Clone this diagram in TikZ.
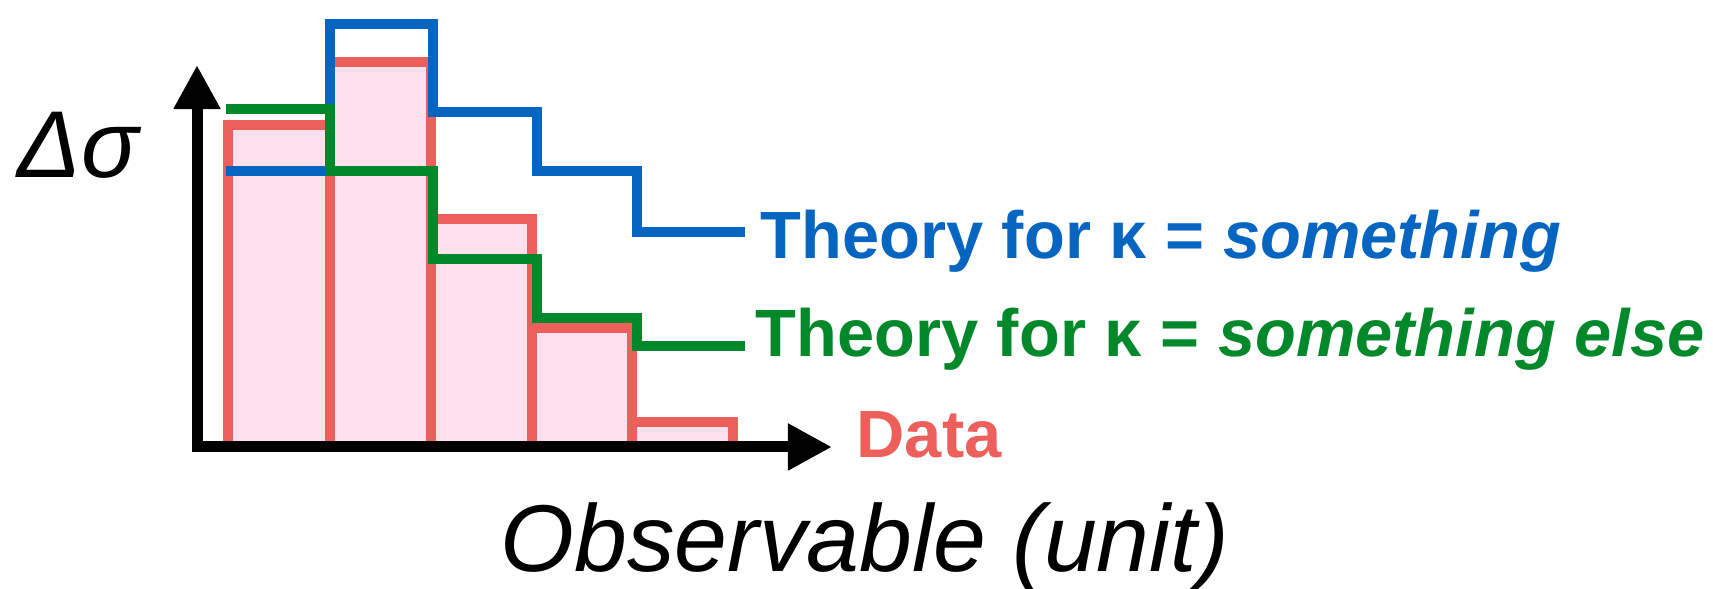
\documentclass[tikz,border=0pt]{standalone}
\usepackage{fontspec}
\setmainfont{Liberation Sans}
\usepackage{xcolor}
\definecolor{theoryblue}{RGB}{5,101,192}
\definecolor{theorygreen}{RGB}{0,136,43}
\definecolor{datared}{RGB}{236,95,90}
\definecolor{datapink}{RGB}{253,224,238}
\usepackage{tikz}
\usetikzlibrary{arrows.meta,positioning}

\begin{document}
\begin{tikzpicture}[x=0.01cm, y=-0.01cm,
    databar/.style={draw=datared, fill=datapink, line width=0.105cm},
    theory/.style={line width=0.105cm, line join=miter},
    axis/.style={line width=0.11cm, line join=miter,
                 {Triangle[length=0.44cm,width=0.44cm]}-{Triangle[length=0.44cm,width=0.44cm]}},
    lbl/.style={font=\fontsize{19}{22}\selectfont\bfseries, anchor=base west, inner sep=0pt},
    axlbl/.style={font=\fontsize{27}{30}\selectfont\itshape, anchor=base west, inner sep=0pt},
  ]
    \useasboundingbox (0,0) rectangle (1713,589);

    % data histogram
    \foreach \xa/\xb/\ytop in {228/330/125, 330/431/62, 431/532/219, 532/632/328, 632/733/422}
      \draw[databar] (\xa,447) rectangle (\xb,\ytop);

    % theory predictions
    \draw[theory, theoryblue] (226,171) -| (330,24) -| (433,112) -| (537,171) -| (637,232)
        -- (745,232) coordinate (blueEnd);
    \draw[theory, theorygreen] (226,109) -| (330,171) -| (433,259) -| (537,318) -| (637,346)
        -- (745,346) coordinate (greenEnd);

    \draw[axis] (197,65) -- (197,447) -- (832,447);

    \node[lbl, text=theoryblue]  (blueLbl)  at (760,259) {Theory for κ = \textit{something}};
    \node[lbl, text=theorygreen] (greenLbl) at (755,357) {Theory for κ = \textit{something else}};
    \node[lbl, text=datared]     (dataLbl)  at (856,458) {Data};

    \node[axlbl] (ylbl) at (17,178) {Δσ};
    \node[axlbl] (xlbl) at (500,572) {Observable (unit)};
\end{tikzpicture}
\end{document}
